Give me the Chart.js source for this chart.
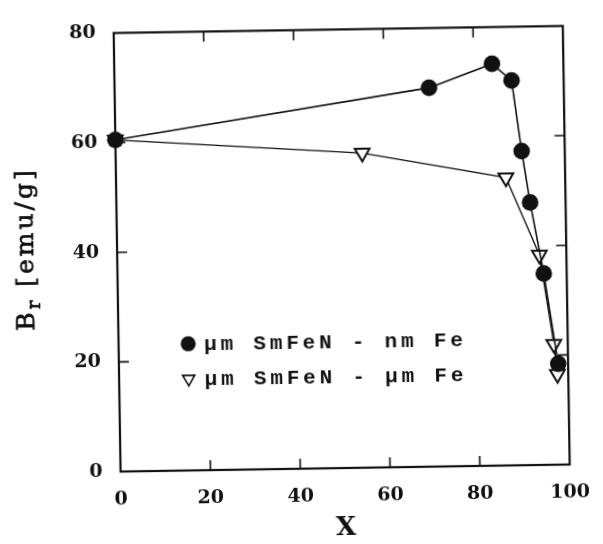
<!DOCTYPE html>
<html lang="en">
<head>
  <meta charset="UTF-8">
  <title>Br vs X</title>
  <script src="https://cdn.jsdelivr.net/npm/chart.js"></script>
  <style>
    html, body { margin: 0; padding: 0; background: #fff; }
    /* the scanned figure is slightly tilted */
    #wrap { width: 603px; height: 544px; position: relative; transform: rotate(-0.9deg); transform-origin: 345px 242px; }
  </style>
</head>
<body>
  <div id="wrap"><canvas id="brChart"></canvas></div>

  <script>
    const xTicks = [0, 20, 40, 60, 80, 100];
    const yTicks = [0, 20, 40, 60, 80];

    // μm SmFeN - nm Fe (filled circles)
    const nmFeX = [0, 70.0, 84.1, 88.4, 90.4, 92.1, 94.9, 97.8];
    const nmFeY = [60.5, 69.1, 73.3, 70.2, 57.3, 47.9, 34.9, 18.4];

    // μm SmFeN - μm Fe (open triangles)
    const umFeX = [0, 54.9, 86.8, 94.0, 96.9, 97.6];
    const umFeY = [60.5, 57.4, 52.5, 38.3, 22.0, 16.5];

    const ink = '#111';
    const serif = '"DejaVu Serif", "Liberation Serif", serif';

    const toPoints = (xs, ys) => xs.map((x, i) => ({ x: x, y: ys[i] }));

    // fill + thin stroke, to get the heavier look of the scanned lettering
    function inkText(ctx, s, x, y) {
      ctx.fillText(s, x, y);
      ctx.strokeText(s, x, y);
    }

    // box with inward ticks on all four sides
    const framePlugin = {
      id: 'frame',
      beforeDatasetsDraw(chart) {
        const { ctx, chartArea: a, scales } = chart;
        const len = 10;
        ctx.save();
        ctx.strokeStyle = ink;
        ctx.lineWidth = 2.2;
        ctx.strokeRect(a.left, a.top, a.right - a.left, a.bottom - a.top);
        ctx.lineWidth = 1.6;
        ctx.beginPath();
        xTicks.slice(1, -1).forEach(v => {
          const px = scales.x.getPixelForValue(v);
          ctx.moveTo(px, a.bottom); ctx.lineTo(px, a.bottom - len);
          ctx.moveTo(px, a.top); ctx.lineTo(px, a.top + len);
        });
        yTicks.slice(1, -1).forEach(v => {
          const py = scales.y.getPixelForValue(v);
          ctx.moveTo(a.left, py); ctx.lineTo(a.left + len, py);
          ctx.moveTo(a.right, py); ctx.lineTo(a.right - len, py);
        });
        ctx.stroke();
        ctx.restore();
      },
      afterDraw(chart) {
        const { ctx, scales } = chart;
        ctx.save();

        // y axis title with subscript
        ctx.translate(26, 244);
        ctx.rotate(-Math.PI / 2);
        ctx.fillStyle = ink;
        ctx.strokeStyle = ink;
        ctx.lineWidth = 0.7;
        ctx.textBaseline = 'middle';
        ctx.textAlign = 'left';
        ctx.letterSpacing = '3px';
        const big = '25px ' + serif, small = '18px ' + serif;
        const pre = 'B', post = ' [emu/g]';
        ctx.font = big;
        const wB = ctx.measureText(pre).width;
        const wPost = ctx.measureText(post).width;
        ctx.font = small;
        const wR = ctx.measureText('r').width;
        const x0 = -(wB + wR + wPost) / 2;
        ctx.font = big;
        inkText(ctx, pre, x0, 0);
        ctx.font = small;
        inkText(ctx, 'r', x0 + wB, 8);
        ctx.font = big;
        inkText(ctx, post, x0 + wB + wR, 0);
        ctx.restore();

        // legend inside the plot, rows either side of the y = 20 tick
        ctx.save();
        const sets = chart.data.datasets;
        const mx = scales.x.getPixelForValue(15.5), tx = mx + 16;
        const mid = scales.y.getPixelForValue(20);
        const rows = [mid - 17, mid + 18];
        ctx.font = 'bold 21px "Liberation Mono", monospace';
        ctx.letterSpacing = '3.8px';
        ctx.fillStyle = ink;
        ctx.textBaseline = 'middle';
        ctx.textAlign = 'left';
        ctx.beginPath();
        ctx.arc(mx, rows[0], 7.5, 0, Math.PI * 2);
        ctx.fill();
        ctx.fillText(sets[0].label, tx, rows[0] + 1);
        const r = 7;
        ctx.beginPath();
        ctx.moveTo(mx, rows[1] + r);
        ctx.lineTo(mx - r * 0.866, rows[1] - r / 2);
        ctx.lineTo(mx + r * 0.866, rows[1] - r / 2);
        ctx.closePath();
        ctx.lineWidth = 1.6;
        ctx.strokeStyle = ink;
        ctx.stroke();
        ctx.fillText(sets[1].label, tx, rows[1] + 1);
        ctx.restore();
      }
    };

    new Chart(document.getElementById('brChart').getContext('2d'), {
      type: 'scatter',
      data: {
        datasets: [{
          label: 'μm SmFeN - nm Fe',
          data: toPoints(nmFeX, nmFeY),
          showLine: true,
          borderColor: ink,
          borderWidth: 1.6,
          pointStyle: 'circle',
          pointRadius: 8.3,
          pointBackgroundColor: ink,
          pointBorderColor: ink,
          pointBorderWidth: 0,
          clip: false
        }, {
          label: 'μm SmFeN - μm Fe',
          data: toPoints(umFeX, umFeY),
          showLine: true,
          borderColor: ink,
          borderWidth: 1.3,
          pointStyle: 'triangle',
          pointRotation: 180,
          pointRadius: 8.5,
          pointBackgroundColor: '#fff',
          pointBorderColor: ink,
          pointBorderWidth: 2,
          clip: false
        }]
      },
      options: {
        responsive: true,
        maintainAspectRatio: false,
        animation: false,
        layout: { padding: { top: 16, right: 30, left: 0, bottom: 0 } },
        plugins: { legend: { display: false }, tooltip: { enabled: false } },
        scales: {
          x: {
            type: 'linear',
            min: 0,
            max: 100,
            afterBuildTicks: s => { s.ticks = xTicks.map(v => ({ value: v })); },
            afterFit: s => { s.height = 76; },
            grid: { display: false, drawTicks: false },
            border: { display: false },
            ticks: { padding: 17, color: ink, font: { family: serif, size: 19, weight: 'bold' } },
            title: { display: true, text: 'X', color: ink, padding: 0, font: { family: serif, size: 26, weight: 'bold' } }
          },
          y: {
            type: 'linear',
            min: 0,
            max: 80,
            afterBuildTicks: s => { s.ticks = yTicks.map(v => ({ value: v })); },
            afterFit: s => { s.width = 117; },
            grid: { display: false, drawTicks: false },
            border: { display: false },
            ticks: { padding: 18, color: ink, font: { family: serif, size: 19, weight: 'bold' } }
          }
        }
      },
      plugins: [framePlugin]
    });
  </script>
</body>
</html>
